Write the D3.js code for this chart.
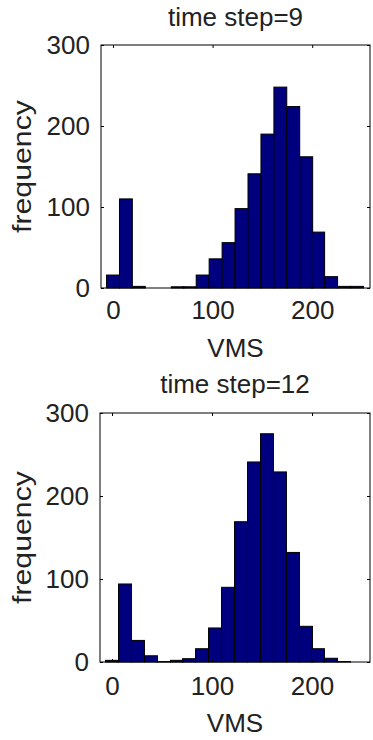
<!DOCTYPE html>
<html>
<head>
<meta charset="utf-8">
<script src="https://cdn.jsdelivr.net/npm/d3@7"></script>
<style>
  html, body { margin: 0; padding: 0; background: #fff; }
  svg { display: block; }
  text { font-family: "Liberation Sans", Arial, sans-serif; fill: #222; }
</style>
</head>
<body>
<svg id="chart" width="373" height="740"></svg>
<script>
// ---- data ----
const binCenters = [0, 13, 26, 39, 52, 65, 77, 90, 103, 116, 129, 142, 155, 168, 181, 194, 206, 219, 232, 245];
const binWidth = 12.9;
const freqStep9  = [16, 110, 2, 0, 0, 1.5, 1.5, 16, 36, 56, 98, 141, 190, 248, 224, 162, 69, 14, 2, 2];
const freqStep12 = [2, 94, 26, 7.5, 0.5, 2, 4, 16, 41, 90, 169, 241, 275, 229, 132, 43, 16, 4.5, 0.5, 0];
const xTicks = [0, 100, 200];
const yTicks = [0, 100, 200, 300];
const panelTitles = ["time step=9", "time step=12"];
const xLabel = "VMS";
const yLabel = "frequency";

const svg = d3.select("#chart");
const FS = 26;

function drawPanel(cfg) {
  const { left, right, top, bottom, values, title, titleY, tickPad, xLabY } = cfg;
  const x = d3.scaleLinear().domain([-12, 258]).range([left, right]);
  const y = d3.scaleLinear().domain([0, 300]).range([bottom, top]);
  const g = svg.append("g");

  // bars
  g.selectAll("rect.bar").data(values).enter().append("rect")
    .attr("class", "bar")
    .attr("x", (d, i) => x(binCenters[i] - binWidth / 2))
    .attr("width", (d, i) => x(binCenters[i] + binWidth / 2) - x(binCenters[i] - binWidth / 2))
    .attr("y", d => y(d))
    .attr("height", d => y(0) - y(d))
    .attr("fill", "#00007f")
    .attr("stroke", "#000")
    .attr("stroke-width", 1);

  // axes (inward ticks, box)
  const tl = 3;
  g.append("g").attr("transform", `translate(0,${bottom})`)
    .call(d3.axisBottom(x).tickValues(xTicks).tickSize(-tl).tickPadding(tickPad).tickFormat(d3.format("d")))
    .call(a => a.select(".domain").remove());
  g.append("g").attr("transform", `translate(0,${top})`)
    .call(d3.axisTop(x).tickValues(xTicks).tickSize(-tl).tickFormat(""))
    .call(a => a.select(".domain").remove());
  g.append("g").attr("transform", `translate(${left},0)`)
    .call(d3.axisLeft(y).tickValues(yTicks).tickSize(-tl).tickPadding(11).tickFormat(d3.format("d")))
    .call(a => a.select(".domain").remove());
  g.append("g").attr("transform", `translate(${right},0)`)
    .call(d3.axisRight(y).tickValues(yTicks).tickSize(-tl).tickFormat(""))
    .call(a => a.select(".domain").remove());
  g.selectAll(".tick line").attr("stroke", "#000");
  g.selectAll(".tick text")
    .style("font-family", '"Liberation Sans", Arial, sans-serif')
    .style("font-size", FS + "px")
    .attr("fill", "#222");

  g.append("rect")
    .attr("x", left).attr("y", top)
    .attr("width", right - left).attr("height", bottom - top)
    .attr("fill", "none").attr("stroke", "#000").attr("stroke-width", 1);

  // title
  g.append("text")
    .attr("x", (left + right) / 2).attr("y", titleY)
    .attr("text-anchor", "middle")
    .style("font-size", FS + "px")
    .text(title);

  // x label
  g.append("text")
    .attr("x", (left + right) / 2).attr("y", xLabY)
    .attr("text-anchor", "middle")
    .style("font-size", FS + "px")
    .text(xLabel);

  // y label
  const cy = (top + bottom) / 2;
  g.append("text")
    .attr("transform", `translate(31,${cy}) rotate(-90)`)
    .attr("text-anchor", "middle")
    .style("font-size", "25px")
    .attr("textLength", 133)
    .attr("lengthAdjust", "spacingAndGlyphs")
    .text(yLabel);
}

drawPanel({ left: 101, right: 370, top: 45, bottom: 288, values: freqStep9,
  title: panelTitles[0], titleY: 26, tickPad: 13, xLabY: 357 });
drawPanel({ left: 100, right: 370, top: 413, bottom: 662, values: freqStep12,
  title: panelTitles[1], titleY: 393, tickPad: 15, xLabY: 732 });
</script>
</body>
</html>
